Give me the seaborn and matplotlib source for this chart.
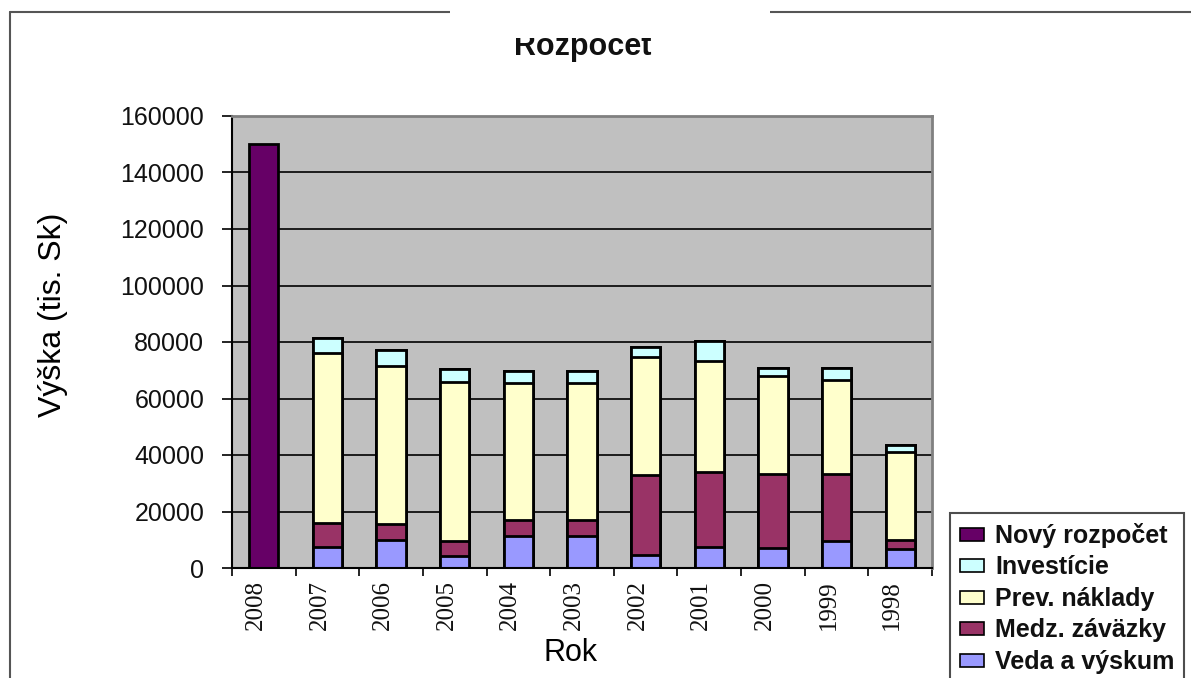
import matplotlib
matplotlib.use("Agg")
import matplotlib.pyplot as plt
import matplotlib.transforms as mtransforms
from matplotlib.patches import Patch, Rectangle
from matplotlib.lines import Line2D
import numpy as np
import pandas as pd
import seaborn as sns

# Budget per year (thousands of Sk)
years = ["2008", "2007", "2006", "2005", "2004", "2003", "2002", "2001", "2000", "1999", "1998"]
novy_rozpocet = [150000, 0, 0, 0, 0, 0, 0, 0, 0, 0, 0]
investicie = [0, 5300, 5500, 4500, 4200, 4200, 3600, 7000, 3100, 4200, 2200]
prev_naklady = [0, 60200, 55900, 56300, 48500, 48500, 41800, 39100, 34600, 33500, 31200]
medz_zavazky = [0, 8500, 5800, 5500, 5700, 5700, 28200, 26800, 26200, 23600, 3400]
veda_vyskum = [0, 7500, 9800, 4100, 11200, 11200, 4700, 7300, 7000, 9600, 6600]
y_ticks = [0, 20000, 40000, 60000, 80000, 100000, 120000, 140000, 160000]

series_names = ["Veda a výskum", "Medz. záväzky", "Prev. náklady", "Investície", "Nový rozpočet"]
series_colors = ["#9999ff", "#993366", "#ffffcc", "#ccffff", "#660066"]

sns.set_theme(style="white")
plt.rcParams["font.family"] = ["Liberation Sans", "DejaVu Sans"]

df = pd.DataFrame({
    "Rok": years,
    "Veda a výskum": veda_vyskum,
    "Medz. záväzky": medz_zavazky,
    "Prev. náklady": prev_naklady,
    "Investície": investicie,
    "Nový rozpočet": novy_rozpocet,
})
# cumulative heights for the stacked layers
cum = df[series_names].cumsum(axis=1)

W, H, DPI = 1191, 678, 100
fig = plt.figure(figsize=(W / DPI, H / DPI), dpi=DPI)
fig.patch.set_facecolor("white")
ax = fig.add_axes([232 / W, (H - 568) / H, 700 / W, 452 / H])
ax.set_facecolor("#c0c0c0")

# draw tallest cumulative layer first, then the lower ones over it
for name, color in reversed(list(zip(series_names, series_colors))):
    sns.barplot(x=df["Rok"], y=cum[name], order=years, color=color, saturation=1,
                width=0.46, edgecolor="black", linewidth=2.0, ax=ax, errorbar=None)

ax.set_ylim(0, 160000)
ax.set_xlim(-0.5, len(years) - 0.5)
ax.set_yticks(y_ticks)
ax.set_yticklabels([str(v) for v in y_ticks], fontsize=18, color="#111111")
ax.yaxis.grid(True, color="black", linewidth=1.2)
ax.xaxis.grid(False)
ax.set_axisbelow(True)

ax.set_xticks(np.arange(len(years)))
ax.set_xticklabels(years, rotation=90, fontsize=18, color="#111111",
                   fontfamily=["Liberation Serif", "DejaVu Serif"])
ax.set_xticks(np.arange(-0.5, len(years), 1.0), minor=True)
ax.tick_params(axis="y", direction="out", length=7, width=1.2, color="black", pad=13, left=True)
ax.tick_params(axis="x", which="major", length=0, pad=9)
ax.tick_params(axis="x", which="minor", direction="out", length=6, width=1.2, color="black", bottom=True)
shift = mtransforms.ScaledTranslation(-0.08, 0, fig.dpi_scale_trans)
for lbl in ax.get_xticklabels():
    lbl.set_transform(lbl.get_transform() + shift)

for side in ["left", "bottom"]:
    ax.spines[side].set_color("black")
    ax.spines[side].set_linewidth(1.5)
for side in ["top", "right"]:
    ax.spines[side].set_color("#808080")
    ax.spines[side].set_linewidth(2)

ax.set_xlabel("Rok", fontsize=22, color="#000000", va="center")
ax.xaxis.set_label_coords((571 - 232) / 700, (568 - 653) / 452)
ax.set_ylabel("Výška (tis. Sk)", fontsize=23, color="#000000", va="center")
ax.yaxis.set_label_coords((53 - 232) / 700, (568 - 315) / 452)

# legend, top series first
handles = [Patch(facecolor=c, edgecolor="black", linewidth=1.2, label=n)
           for n, c in reversed(list(zip(series_names, series_colors)))]
leg = fig.legend(handles=handles, loc="upper left",
                 bbox_to_anchor=(950 / W, (H - 513) / H), bbox_transform=fig.transFigure,
                 prop={"weight": "bold", "size": 18}, frameon=True, fancybox=False,
                 borderaxespad=0, borderpad=0.4, labelspacing=0.3,
                 handlelength=0.95, handleheight=0.42, handletextpad=0.45)
leg.get_frame().set_edgecolor("#222222")
leg.get_frame().set_linewidth(1.5)
for t in leg.get_texts():
    t.set_color("#111111")

# title
fig.text(583 / W, 1 - 47 / H, "Rozpocet", ha="center", va="center",
         fontsize=22, fontweight="bold", color="#111111")

# chart border
fig.add_artist(Line2D([10 / W, 10 / W], [0, 1 - 12 / H], transform=fig.transFigure,
                      color="#555555", linewidth=1.5))
fig.add_artist(Line2D([10 / W, 1], [1 - 12 / H, 1 - 12 / H], transform=fig.transFigure,
                      color="#555555", linewidth=1.5))
# white panel over the top of the title area
fig.add_artist(Rectangle((450 / W, 1 - 38 / H), 320 / W, 38 / H, transform=fig.transFigure,
                         facecolor="white", edgecolor="none", zorder=10))

fig.savefig("out.png", dpi=DPI, facecolor="white")
